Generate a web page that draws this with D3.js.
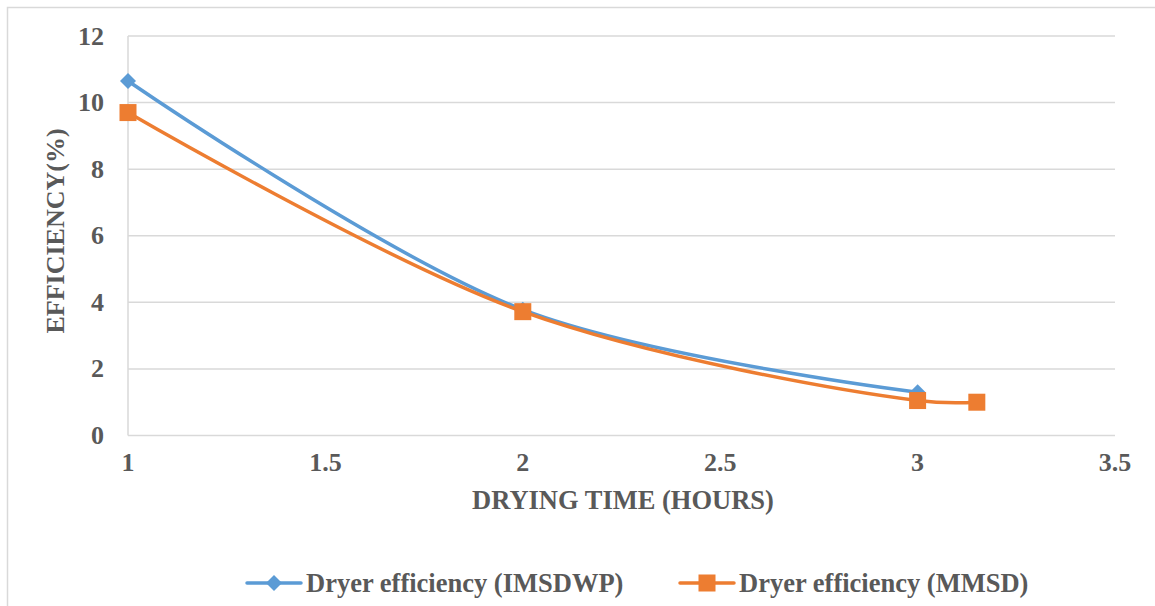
<!DOCTYPE html>
<html>
<head>
<meta charset="utf-8">
<script src="https://cdn.jsdelivr.net/npm/d3@7"></script>
<style>
  html, body { margin: 0; padding: 0; background: #fff; }
  svg { display: block; }
</style>
</head>
<body>
<svg id="chart" width="1155" height="606"></svg>
<script>
// Drying time (hours) and dryer efficiency (%) for the two dryers
const imsdwpTime = [1, 2, 3];
const imsdwpEff = [10.65, 3.78, 1.3];
const mmsdTime = [1, 2, 3, 3.15];
const mmsdEff = [9.7, 3.72, 1.05, 1.0];
const xTicks = [1, 1.5, 2, 2.5, 3, 3.5];
const yTicks = [0, 2, 4, 6, 8, 10, 12];
const seriesNames = ["Dryer efficiency (IMSDWP)", "Dryer efficiency (MMSD)"];
const seriesColors = ["#5b9bd5", "#ed7d31"];

const FONT = "'Liberation Serif'";
const svg = d3.select("#chart");
const W = 1155, H = 606;
const plot = { left: 128, right: 1115, top: 36, bottom: 435.5 };

function label(sel, size) {
  return sel.attr("font-family", FONT).attr("font-weight", "bold")
    .attr("fill", "#595959").attr("font-size", size);
}

// outer chart border
svg.append("rect")
  .attr("x", 7.5).attr("y", 7.5)
  .attr("width", W + 10).attr("height", H + 10)
  .attr("fill", "none").attr("stroke", "#d9d9d9").attr("stroke-width", 1.5);

const x = d3.scaleLinear().domain([1, 3.5]).range([plot.left, plot.right]);
const y = d3.scaleLinear().domain([0, 12]).range([plot.bottom, plot.top]);

// horizontal gridlines
svg.append("g").selectAll("line").data(yTicks).join("line")
  .attr("x1", plot.left).attr("x2", plot.right)
  .attr("y1", d => y(d)).attr("y2", d => y(d))
  .attr("stroke", "#d9d9d9").attr("stroke-width", 1.5);

// vertical axis line
svg.append("line")
  .attr("x1", plot.left).attr("x2", plot.left)
  .attr("y1", plot.top).attr("y2", plot.bottom)
  .attr("stroke", "#d9d9d9").attr("stroke-width", 1.5);

// y tick labels
label(svg.append("g").selectAll("text").data(yTicks).join("text"), 26)
  .attr("x", 104).attr("y", d => y(d) + 8.5)
  .attr("text-anchor", "end")
  .text(d => d);

// x tick labels
label(svg.append("g").selectAll("text").data(xTicks).join("text"), 26)
  .attr("x", d => x(d)).attr("y", 471)
  .attr("text-anchor", "middle")
  .text(d => d);

// axis titles
label(svg.append("text"), 26.5)
  .attr("x", 623).attr("y", 509)
  .attr("text-anchor", "middle")
  .text("DRYING TIME (HOURS)");

label(svg.append("text"), 26)
  .attr("transform", "translate(64,231) rotate(-90)")
  .attr("text-anchor", "middle")
  .text("EFFICIENCY(%)");

// smoothed series lines
const line = d3.line()
  .x(d => x(d[0])).y(d => y(d[1]))
  .curve(d3.curveCatmullRom.alpha(0.5));

const series = [
  { pts: d3.zip(imsdwpTime, imsdwpEff), color: seriesColors[0], marker: "diamond" },
  { pts: d3.zip(mmsdTime, mmsdEff), color: seriesColors[1], marker: "square" }
];

series.forEach(s => {
  svg.append("path")
    .attr("d", line(s.pts))
    .attr("fill", "none")
    .attr("stroke", s.color)
    .attr("stroke-width", 3.5)
    .attr("stroke-linejoin", "round");
});

function drawMarker(g, kind, cx, cy, color) {
  if (kind === "diamond") {
    g.append("path")
      .attr("d", `M${cx},${cy - 8}L${cx + 8},${cy}L${cx},${cy + 8}L${cx - 8},${cy}Z`)
      .attr("fill", color);
  } else {
    g.append("rect")
      .attr("x", cx - 8.5).attr("y", cy - 8.5)
      .attr("width", 17).attr("height", 17)
      .attr("fill", color);
  }
}

series.forEach(s => {
  const g = svg.append("g");
  s.pts.forEach(p => drawMarker(g, s.marker, x(p[0]), y(p[1]), s.color));
});

// legend
const legendItems = [
  { x0: 247, color: seriesColors[0], marker: "diamond", name: seriesNames[0] },
  { x0: 680, color: seriesColors[1], marker: "square", name: seriesNames[1] }
];
const ly = 583;
legendItems.forEach(it => {
  const g = svg.append("g");
  g.append("line")
    .attr("x1", it.x0).attr("x2", it.x0 + 54)
    .attr("y1", ly).attr("y2", ly)
    .attr("stroke", it.color).attr("stroke-width", 3.5)
    .attr("stroke-linecap", "round");
  drawMarker(g, it.marker, it.x0 + 27, ly, it.color);
  label(g.append("text"), 26.5)
    .attr("x", it.x0 + 59).attr("y", ly + 8.5)
    .text(it.name);
});
</script>
</body>
</html>
